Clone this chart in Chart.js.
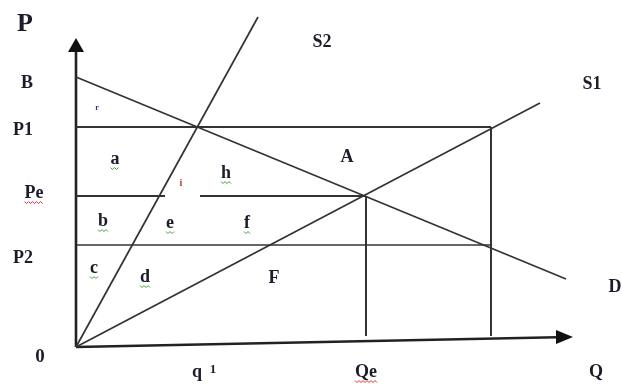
<!DOCTYPE html>
<html>
<head>
<meta charset="utf-8">
<script src="https://cdn.jsdelivr.net/npm/chart.js@4"></script>
<style>
  html, body { margin: 0; padding: 0; background: #fff; }
  #wrap { width: 622px; height: 384px; }
</style>
</head>
<body>
<div id="wrap"><canvas id="c" width="622" height="384"></canvas></div>
<script>
// ---- data (quantity on x, price on y) ----
const demandQ = [0, 49];
const demandP = [27, 6.8];
const supply1Q = [0, 46.4];
const supply1P = [0, 24.4];
const supply2Q = [0, 18.2];
const supply2P = [0, 33];
const priceNames = ["B", "P1", "Pe", "P2"];
const priceValues = [27, 22, 15.1, 10.2];
const qtyNames = ["q 1", "Qe", "Q"];
const qtyValues = [12.7, 29, 52];
const qRight = 41.5;          // quantity demanded at P2 / supplied at P1
const peGapStart = 8.9;       // break in the Pe line
const peGapEnd = 12.4;
const verticalBottom = 1.1;
const axisTopP = 30.9;
const axisEndQ = 49.7;
const axisEndP = 1.0;

// label placements (data units)
const labelSpec = [
  { t: "P",  q: -5.1, p: 32.3, s: 26 },
  { t: "B",  q: -4.9, p: 26.4 },
  { t: "P1", q: -5.3, p: 21.7 },
  { t: "Pe", q: -4.2, p: 15.4, wave: "red" },
  { t: "P2", q: -5.3, p: 8.9 },
  { t: "0",  q: -3.6, p: -1.0, s: 19 },
  { t: "S2", q: 24.6, p: 30.5 },
  { t: "S1", q: 51.6, p: 26.3 },
  { t: "D",  q: 53.9, p: 6.0 },
  { t: "A",  q: 27.1, p: 19.0 },
  { t: "a",  q: 3.9,  p: 18.8, wave: "green" },
  { t: "h",  q: 15.0, p: 17.4, wave: "green" },
  { t: "i",  q: 10.5, p: 16.4, s: 10, c: "#c0392b" },
  { t: "r",  q: 2.1,  p: 23.9, s: 8, c: "#1f3a78" },
  { t: "b",  q: 2.7,  p: 12.6, wave: "green" },
  { t: "e",  q: 9.4,  p: 12.4, wave: "green" },
  { t: "f",  q: 17.1, p: 12.4, wave: "green" },
  { t: "c",  q: 1.8,  p: 7.9,  wave: "green" },
  { t: "d",  q: 6.9,  p: 7.0,  wave: "green" },
  { t: "F",  q: 19.8, p: 6.9 }
];

function pts(xs, ys) { return xs.map((x, i) => ({ x: x, y: ys[i] })); }

const lineCol = "#333333";
const base = { showLine: true, pointRadius: 0, borderColor: lineCol, borderWidth: 1.7, fill: false, tension: 0 };

const P1 = priceValues[1], Pe = priceValues[2], P2 = priceValues[3];
const Qe = qtyValues[1];

const datasets = [
  Object.assign({}, base, { label: "D", data: pts(demandQ, demandP) }),
  Object.assign({}, base, { label: "S1", data: pts(supply1Q, supply1P) }),
  Object.assign({}, base, { label: "S2", data: pts(supply2Q, supply2P) }),
  Object.assign({}, base, { label: "P1", borderWidth: 2.2, data: [{ x: 0, y: P1 }, { x: qRight, y: P1 }] }),
  Object.assign({}, base, { label: "Pe", borderWidth: 2, spanGaps: false,
    data: [{ x: 0, y: Pe }, { x: peGapStart, y: Pe }, { x: (peGapStart + peGapEnd) / 2, y: null }, { x: peGapEnd, y: Pe }, { x: Qe, y: Pe }] }),
  Object.assign({}, base, { label: "P2", borderWidth: 1.7, data: [{ x: 0, y: P2 }, { x: qRight, y: P2 }] }),
  Object.assign({}, base, { label: "Qe", borderWidth: 2, data: [{ x: Qe, y: Pe }, { x: Qe, y: verticalBottom }] }),
  Object.assign({}, base, { label: "Qr", borderWidth: 2, data: [{ x: qRight, y: P1 }, { x: qRight, y: verticalBottom }] }),
  Object.assign({}, base, { label: "yaxis", borderColor: "#222", borderWidth: 2.6, data: [{ x: 0, y: 0 }, { x: 0, y: axisTopP - 1.0 }] }),
  Object.assign({}, base, { label: "xaxis", borderColor: "#222", borderWidth: 2.6, data: [{ x: 0, y: 0 }, { x: axisEndQ - 1.6, y: axisEndP * (axisEndQ - 1.6) / axisEndQ }] })
];

const decor = {
  id: "decor",
  afterDatasetsDraw(chart) {
    const ctx = chart.ctx, xs = chart.scales.x, ys = chart.scales.y;
    const X = v => xs.getPixelForValue(v), Y = v => ys.getPixelForValue(v);
    ctx.save();
    // arrowheads
    ctx.fillStyle = "#111";
    const tx = X(0), ty = Y(axisTopP);
    ctx.beginPath();
    ctx.moveTo(tx, ty); ctx.lineTo(tx - 8, ty + 14); ctx.lineTo(tx + 8, ty + 14); ctx.closePath(); ctx.fill();
    const ax = X(axisEndQ), ay = Y(axisEndP);
    ctx.beginPath();
    ctx.moveTo(ax, ay); ctx.lineTo(ax - 17, ay - 7); ctx.lineTo(ax - 17, ay + 7); ctx.closePath(); ctx.fill();

    // labels
    ctx.textAlign = "center";
    ctx.textBaseline = "middle";
    const all = labelSpec.slice();
    qtyNames.forEach((n, i) => all.push({ t: n, q: qtyValues[i], p: -2.5, wave: n === "Qe" ? "red" : null }));
    all.forEach(l => {
      const size = l.s || 18;
      ctx.font = "bold " + size + "px 'Liberation Serif', 'Times New Roman', serif";
      ctx.fillStyle = l.c || "#1c1c2a";
      const px = X(l.q), py = Y(l.p);
      if (l.t === "q 1") {
        ctx.fillText("q", px - 6, py);
        ctx.font = "bold 13px 'Liberation Serif', serif";
        ctx.fillText("1", px + 10, py - 2);
      } else {
        ctx.fillText(l.t, px, py);
      }
      if (l.wave) {
        const w = ctx.measureText(l.t).width;
        ctx.strokeStyle = l.wave === "red" ? "#e03030" : "#3aa23a";
        ctx.lineWidth = 1;
        ctx.beginPath();
        const y0 = py + size * 0.42 + 1;
        let x0 = px - w / 2;
        ctx.moveTo(x0, y0);
        let k = 0;
        for (let xx = x0 + 2; xx <= px + w / 2 + 0.5; xx += 2) {
          ctx.lineTo(xx, y0 + (k % 2 === 0 ? 2 : 0));
          k++;
        }
        ctx.stroke();
      }
    });
    ctx.restore();
  }
};

new Chart(document.getElementById("c"), {
  type: "scatter",
  data: { datasets: datasets },
  options: {
    responsive: false,
    animation: false,
    layout: { padding: 0 },
    plugins: { legend: { display: false }, tooltip: { enabled: false } },
    scales: {
      x: { type: "linear", min: -7.6, max: 54.6, display: false },
      y: { type: "linear", min: -3.7, max: 34.7, display: false }
    }
  },
  plugins: [decor]
});
</script>
</body>
</html>
